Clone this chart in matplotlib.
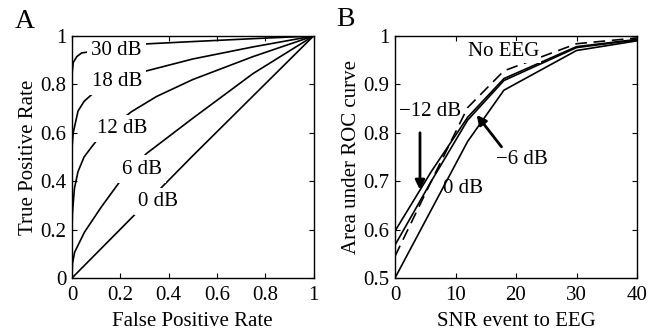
import numpy as np
import matplotlib
matplotlib.use("Agg")
import matplotlib.pyplot as plt

plt.rcParams['font.family'] = ['Liberation Serif', 'DejaVu Serif']
plt.rcParams['font.size'] = 15

# panel A: ROC curves
fpr_30 = [0, 0.0, 0.001, 0.005, 0.02, 0.04, 0.3, 0.5, 0.75, 1]
tpr_30 = [0, 0.80, 0.85, 0.89, 0.915, 0.93, 0.967, 0.977, 0.989, 1]
fpr_18 = [0, 0.0, 0.001, 0.005, 0.025, 0.05, 0.087, 0.294, 0.5, 0.75, 1]
tpr_18 = [0, 0.50, 0.55, 0.60, 0.69, 0.73, 0.763, 0.852, 0.905, 0.955, 1]
fpr_12 = [0, 0.0, 0.002, 0.01, 0.025, 0.05, 0.08, 0.115, 0.246, 0.35, 0.5, 0.75, 1]
tpr_12 = [0, 0.20, 0.27, 0.37, 0.44, 0.50, 0.54, 0.584, 0.687, 0.75, 0.82, 0.915, 1]
fpr_6 = [0, 0.002, 0.011, 0.052, 0.121, 0.197, 0.308, 0.5, 0.75, 1]
tpr_6 = [0, 0.06, 0.107, 0.19, 0.293, 0.397, 0.514, 0.66, 0.845, 1]
fpr_0 = [0, 0.27, 0.5, 1]
tpr_0 = [0, 0.272, 0.505, 1]

# panel B: AUC vs SNR
snr = [0, 6, 12, 18, 30, 40]
auc_m12 = [0.597, 0.72, 0.832, 0.912, 0.978, 0.993]
auc_m6 = [0.568, 0.70, 0.826, 0.908, 0.976, 0.992]
auc_0 = [0.5, 0.641, 0.782, 0.888, 0.970, 0.990]
auc_noeeg = [0.545, 0.70, 0.852, 0.928, 0.984, 0.996]

W, H = 656, 333
fig = plt.figure(figsize=(W / 100, H / 100), dpi=100)
axA = fig.add_axes([72 / W, 1 - 278 / H, 241.5 / W, 242 / H])
axB = fig.add_axes([395 / W, 1 - 278 / H, 242 / W, 242 / H])

lw = 1.2
wb = dict(facecolor='white', edgecolor='none', pad=3)

for fx, ty in [(fpr_30, tpr_30), (fpr_18, tpr_18), (fpr_12, tpr_12),
               (fpr_6, tpr_6), (fpr_0, tpr_0)]:
    axA.plot(fx, ty, 'k-', lw=lw)

labA = [('30 dB', 0.185, 0.942), ('18 dB', 0.186, 0.811), ('12 dB', 0.209, 0.619),
        ('6 dB', 0.289, 0.45), ('0 dB', 0.356, 0.315)]
for s, x, y in labA:
    axA.text(x, y, s, ha='center', va='center', bbox=wb, zorder=2.3)

axA.set_xlim(0, 1)
axA.set_ylim(0, 1)
axA.set_xticks([0, 0.2, 0.4, 0.6, 0.8, 1])
axA.set_xticklabels(['0', '0.2', '0.4', '0.6', '0.8', '1'])
axA.set_yticks([0, 0.2, 0.4, 0.6, 0.8, 1])
axA.set_yticklabels(['0', '0.2', '0.4', '0.6', '0.8', '1'])
axA.set_xlabel('False Positive Rate', labelpad=5)
axA.set_ylabel('True Positive Rate', labelpad=2)

axB.plot(snr, auc_m12, 'k-', lw=lw)
axB.plot(snr, auc_m6, 'k-', lw=lw)
axB.plot(snr, auc_0, 'k-', lw=lw)
axB.plot(snr, auc_noeeg, 'k-', lw=lw, dashes=(7, 4))

axB.text(18.0, 0.967, 'No EEG', ha='center', va='center', zorder=2.3,
         bbox=dict(facecolor='white', edgecolor='none', pad=1))
axB.text(5.8, 0.843, '\u221212 dB', ha='center', va='center')
axB.text(20.9, 0.745, '\u22126 dB', ha='center', va='center')
axB.text(11.2, 0.685, '0 dB', ha='center', va='center')
ap = dict(arrowstyle='-|>', lw=2, color='k', mutation_scale=14, shrinkA=0, shrinkB=0)
axB.annotate('', xy=(4.13, 0.682), xytext=(4.13, 0.80), arrowprops=ap)
axB.annotate('', xy=(13.5, 0.837), xytext=(17.6, 0.771), arrowprops=ap)

axB.set_xlim(0, 40)
axB.set_ylim(0.5, 1)
axB.set_xticks([0, 10, 20, 30, 40])
axB.set_yticks([0.5, 0.6, 0.7, 0.8, 0.9, 1])
axB.set_yticklabels(['0.5', '0.6', '0.7', '0.8', '0.9', '1'])
axB.set_xlabel('SNR event to EEG', labelpad=5)
axB.set_ylabel('Area under ROC curve', labelpad=2)

for ax in (axA, axB):
    ax.tick_params(direction='in', top=True, right=True, length=3.5, width=0.8)
    ax.tick_params(axis='x', pad=6)
    ax.tick_params(axis='y', pad=4)
    for sp in ax.spines.values():
        sp.set_linewidth(1.0)

fig.text(25 / W, 1 - 21 / H, 'A', fontsize=20, ha='center', va='center')
fig.text(345 / W, 1 - 20 / H, 'B', fontsize=20, ha='center', va='center')

fig.savefig('out.png', dpi=100)
